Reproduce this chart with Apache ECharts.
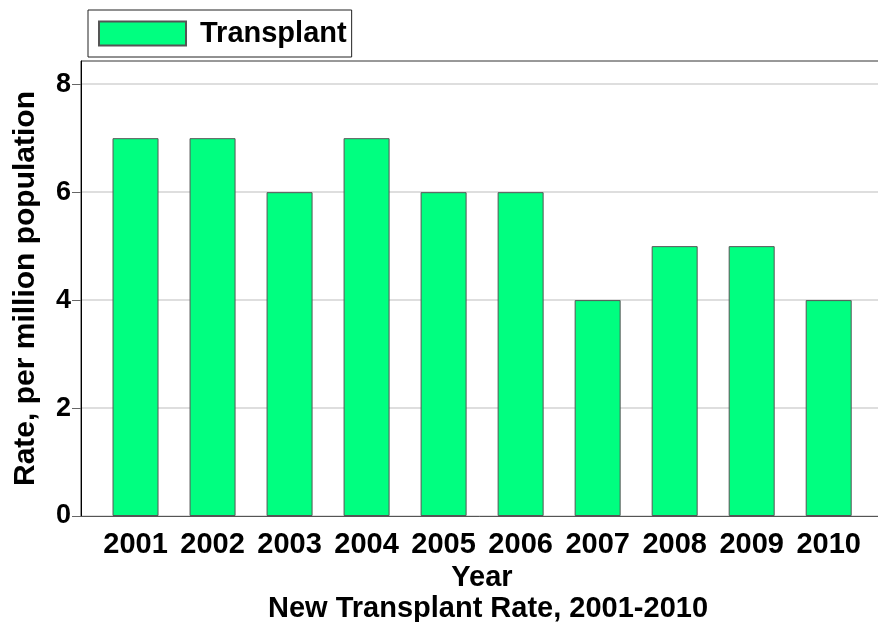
<!DOCTYPE html>
<html>
<head>
<meta charset="utf-8">
<script src="https://cdn.jsdelivr.net/npm/echarts@6/dist/echarts.min.js"></script>
<style>
  html, body { margin: 0; padding: 0; background: #fff; }
  #main { width: 878px; height: 622px; }
</style>
</head>
<body>
<div id="main"></div>
<script>
// data
var years = [2001, 2002, 2003, 2004, 2005, 2006, 2007, 2008, 2009, 2010];
var transplantRate = [7, 7, 6, 7, 6, 6, 4, 5, 5, 4];
var yTicks = [0, 2, 4, 6, 8];

var font = '"Liberation Sans", Arial, sans-serif';
var bigText = { fontFamily: font, fontSize: 29, fontWeight: 'bold', color: '#000' };

var chart = echarts.init(document.getElementById('main'));

var option = {
    animation: false,
    textStyle: { fontFamily: font },
    title: {
        text: 'New Transplant Rate, 2001-2010',
        left: 488,
        top: 594,
        textAlign: 'center',
        padding: 0,
        textStyle: bigText
    },
    legend: {
        left: 88,
        top: 10,
        padding: [9, 5, 9, 10],
        borderColor: '#222',
        borderWidth: 1,
        itemWidth: 87,
        itemHeight: 24,
        icon: 'rect',
        textStyle: Object.assign({}, bigText, { lineHeight: 24, padding: [0, 0, 0, 9] })
    },
    // plot runs off the right edge in the reference
    grid: {
        left: 81,
        top: 61,
        width: 802,
        height: 455,
        outerBoundsMode: 'none',
        show: true,
        borderColor: '#333',
        borderWidth: 1
    },
    xAxis: {
        type: 'value',
        min: 2000.292,
        max: 2010.705,
        name: 'Year',
        nameLocation: 'middle',
        nameGap: 43,
        nameTextStyle: bigText,
        axisLine: { show: true, lineStyle: { color: '#555', width: 1 } },
        axisTick: { show: false },
        splitLine: { show: false },
        axisLabel: Object.assign({
            customValues: years,
            margin: 14,
            formatter: function (v) { return String(Math.round(v)); }
        }, bigText)
    },
    yAxis: {
        type: 'value',
        min: 0,
        max: 8.43,
        interval: 2,
        name: 'Rate, per million population',
        nameLocation: 'middle',
        nameGap: 40,
        nameTextStyle: Object.assign({}, bigText, { fontSize: 30 }),
        axisLine: { show: true, lineStyle: { color: '#000', width: 1 } },
        axisTick: { show: true, length: 9, customValues: yTicks, lineStyle: { color: '#666' } },
        axisLabel: {
            customValues: yTicks,
            margin: 10,
            fontFamily: font,
            fontSize: 27,
            fontWeight: 'bold',
            color: '#000'
        },
        splitLine: { show: true, lineStyle: { color: '#dedede', width: 2 } }
    },
    series: [{
        name: 'Transplant',
        type: 'bar',
        barWidth: 46,
        data: years.map(function (y, i) { return [y, transplantRate[i]]; }),
        itemStyle: { color: '#00ff80', borderColor: '#555', borderWidth: 1 }
    }]
};

chart.setOption(option);
</script>
</body>
</html>
